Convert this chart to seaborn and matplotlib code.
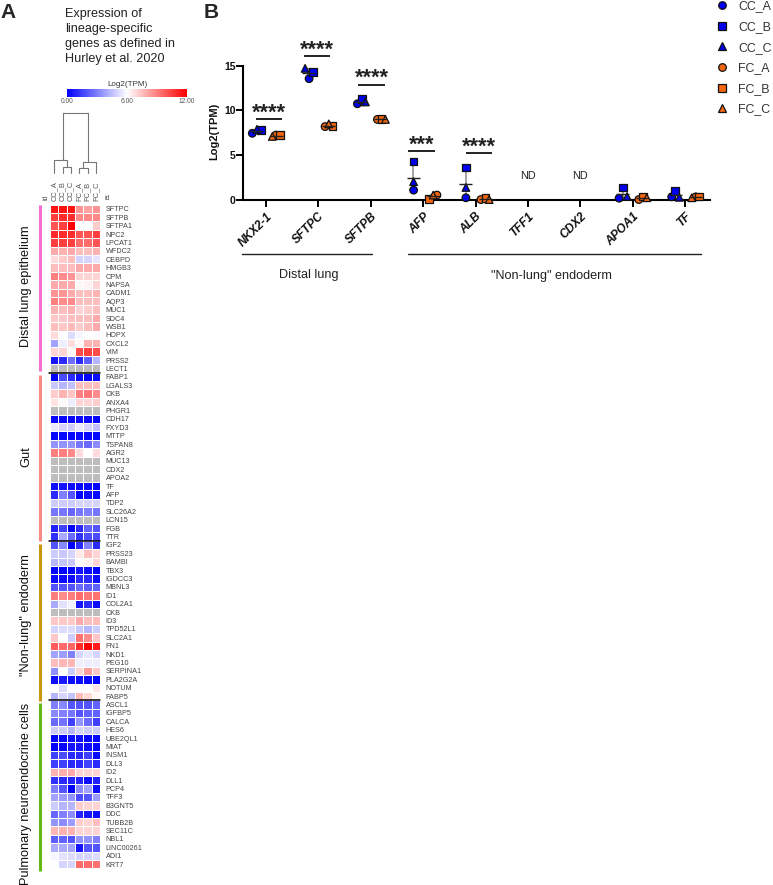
#!/usr/bin/env python
# coding: utf-8

import numpy as np
import pandas as pd
import matplotlib

matplotlib.use("Agg")
import matplotlib.pyplot as plt
import matplotlib.colors as mcolors
import seaborn as sns

nan = np.nan

## heatmap data (panel A), Log2(TPM)

samples = ["CC_A", "CC_B", "CC_C", "FC_A", "FC_B", "FC_C"]

distal_genes = ["SFTPC", "SFTPB", "SFTPA1", "NPC2", "LPCAT1", "WFDC2", "CEBPD", "HMGB3", "CPM", "NAPSA",
                "CADM1", "AQP3", "MUC1", "SDC4", "WSB1", "HOPX", "CXCL2", "VIM", "PRSS2", "LECT1"]
distal_values = [
    [11.5, 11.5, 11.5, 8.5, 8.2, 8.5],
    [10.5, 11.0, 11.0, 8.8, 8.8, 8.8],
    [10.0, 10.5, 12.0, 6.0, 6.0, 7.2],
    [11.0, 11.0, 11.0, 10.0, 10.0, 10.5],
    [10.5, 10.5, 10.5, 9.5, 9.5, 10.0],
    [8.0, 7.8, 8.0, 7.5, 7.5, 7.8],
    [6.8, 7.2, 7.5, 5.0, 5.0, 5.4],
    [7.5, 7.5, 7.5, 8.0, 8.0, 8.0],
    [9.0, 8.7, 8.5, 7.0, 7.0, 7.0],
    [8.0, 8.0, 8.0, 6.2, 6.3, 7.0],
    [8.5, 8.5, 8.0, 7.5, 7.5, 7.8],
    [9.0, 8.7, 8.8, 7.5, 7.5, 7.5],
    [7.8, 7.5, 7.8, 7.0, 7.2, 7.5],
    [7.3, 7.3, 7.5, 7.5, 7.5, 8.0],
    [7.5, 7.3, 7.6, 7.2, 7.5, 8.0],
    [6.8, 6.0, 5.2, 5.8, 6.0, 5.9],
    [3.8, 5.6, 6.8, 6.2, 7.8, 7.8],
    [7.0, 7.0, 6.2, 10.2, 10.5, 10.2],
    [0.5, 1.0, 2.6, 1.0, 2.2, 4.3],
    [nan, nan, nan, nan, nan, nan],
]

gut_genes = ["FABP1", "LGALS3", "CKB", "ANXA4", "PHGR1", "CDH17", "FXYD3", "MTTP", "TSPAN8", "AGR2",
             "MUC13", "CDX2", "APOA2", "TF", "AFP", "TDP2", "SLC26A2", "LCN15", "FGB", "TTR"]
gut_values = [
    [0.0, 1.8, 1.0, 0.3, 0.0, 0.3],
    [4.7, 4.3, 4.5, 7.5, 7.5, 7.5],
    [7.2, 7.8, 7.4, 9.0, 9.2, 8.7],
    [6.7, 6.1, 5.6, 7.0, 7.0, 7.2],
    [nan, nan, nan, nan, nan, nan],
    [0.1, 0.1, 0.1, 0.2, 0.1, 0.1],
    [5.5, 5.0, 4.8, 5.5, 5.0, 4.5],
    [0.2, 0.2, 0.2, 0.3, 0.2, 0.2],
    [3.5, 3.5, 3.5, 2.8, 2.5, 3.3],
    [9.0, 9.0, 8.8, 6.8, 6.0, 6.8],
    [nan, nan, nan, nan, nan, nan],
    [nan, nan, nan, nan, nan, nan],
    [nan, nan, nan, nan, nan, nan],
    [0.3, 0.5, 0.3, 0.2, 0.2, 0.1],
    [1.0, 3.0, 2.0, 0.0, 0.3, 0.2],
    [4.8, 4.8, 4.8, 5.0, 5.0, 5.0],
    [2.8, 2.8, 2.4, 2.8, 3.0, 2.8],
    [nan, nan, nan, nan, nan, nan],
    [0.8, 1.5, 0.0, 1.0, 2.3, 2.0],
    [1.2, 4.0, 2.5, 1.2, 1.8, 1.8],
]

endoderm_genes = ["IGF2", "PRSS23", "BAMBI", "TBX3", "IGDCC3", "MBNL3", "ID1", "COL2A1", "CKB", "ID3",
                  "TPD52L1", "SLC2A1", "FN1", "NKD1", "PEG10", "SERPINA1", "PLA2G2A", "NOTUM", "FABP5"]
endoderm_values = [
    [2.0, 3.2, 0.0, 1.0, 3.0, 1.0],
    [4.8, 4.7, 5.0, 6.5, 7.5, 7.0],
    [4.3, 4.6, 4.7, 6.0, 6.3, 7.0],
    [0.0, 0.0, 0.0, 0.5, 0.3, 0.0],
    [0.3, 0.3, 0.3, 1.0, 1.0, 0.3],
    [2.0, 2.0, 2.0, 2.5, 2.2, 2.3],
    [9.0, 8.7, 9.0, 9.5, 9.2, 9.3],
    [4.0, 5.3, 5.7, 0.5, 1.0, 0.3],
    [nan, nan, nan, nan, nan, nan],
    [7.3, 7.3, 7.3, 8.0, 7.5, 7.6],
    [5.0, 5.2, 5.2, 4.7, 4.3, 4.8],
    [7.3, 6.0, 4.8, 9.3, 8.7, 7.3],
    [9.8, 9.5, 9.6, 11.0, 12.0, 11.3],
    [3.8, 3.7, 3.0, 5.0, 5.4, 5.0],
    [7.5, 7.7, 7.7, 5.6, 5.6, 5.6],
    [3.4, 6.0, 4.8, 7.0, 8.3, 7.3],
    [0.3, 0.6, 0.3, 0.3, 0.2, 0.0],
    [6.0, 5.2, 6.0, 6.0, 6.0, 6.6],
    [4.3, 5.0, 4.6, 7.6, 6.9, 6.2],
]

pnec_genes = ["ASCL1", "IGFBP5", "CALCA", "HES6", "UBE2QL1", "MIAT", "INSM1", "DLL3", "ID2", "DLL1",
              "PCP4", "TFF3", "B3GNT5", "DDC", "TUBB2B", "SEC11C", "NBL1", "LINC00261", "ADI1", "KRT7"]
pnec_values = [
    [3.0, 3.2, 2.0, 2.0, 2.0, 2.3],
    [3.2, 3.0, 2.8, 2.0, 2.3, 2.3],
    [2.5, 2.7, 1.5, 3.5, 2.5, 1.5],
    [4.8, 4.8, 4.3, 5.0, 4.8, 4.8],
    [0.0, 0.0, 0.3, 0.3, 0.0, 0.1],
    [0.0, 0.1, 0.5, 0.5, 0.3, 0.1],
    [1.5, 1.8, 1.0, 1.0, 1.5, 0.3],
    [1.5, 1.5, 1.0, 1.0, 1.5, 1.0],
    [7.8, 7.9, 8.0, 7.0, 7.0, 7.0],
    [1.2, 1.0, 0.8, 0.8, 0.3, 0.8],
    [3.0, 2.0, 0.0, 3.3, 3.8, 0.3],
    [3.8, 3.7, 3.5, 1.8, 2.0, 3.7],
    [4.8, 4.3, 4.3, 7.2, 7.0, 7.0],
    [2.4, 3.0, 3.3, 0.8, 0.5, 0.3],
    [3.5, 3.3, 3.7, 7.2, 7.0, 7.5],
    [7.7, 7.8, 7.8, 7.0, 7.0, 7.0],
    [2.2, 2.3, 2.0, 3.5, 3.5, 3.0],
    [4.0, 4.0, 3.8, 0.5, 2.0, 2.0],
    [5.8, 5.3, 5.2, 5.0, 5.0, 5.2],
    [6.0, 5.0, 5.0, 9.5, 9.5, 9.3],
]

# (left child, right child, height); children >= 6 are earlier merges
merges = [(1, 2, 6.5), (0, 6, 13), (3, 4, 5), (8, 5, 11), (7, 9, 59.7)]

## scatter data (panel B), Log2(TPM)

markers_genes = ["NKX2-1", "SFTPC", "SFTPB", "AFP", "ALB", "TFF1", "CDX2", "APOA1", "TF"]
cc_a = [7.45, 13.55, 10.75, 1.1, 0.25, nan, nan, 0.2, 0.35]
cc_b = [7.8, 14.3, 11.3, 4.3, 3.65, nan, nan, 1.4, 1.0]
cc_c = [7.9, 14.7, 10.95, 2.05, 1.4, nan, nan, 0.4, 0.3]
fc_a = [7.25, 8.2, 9.0, 0.55, 0.05, nan, nan, 0.05, 0.35]
fc_b = [7.25, 8.25, 9.05, 0.1, 0.2, nan, nan, 0.4, 0.4]
fc_c = [7.1, 8.5, 9.0, 0.55, 0.05, nan, nan, 0.25, 0.25]

sig_genes = ["NKX2-1", "SFTPC", "SFTPB", "AFP", "ALB"]
sig_labels = ["****", "****", "****", "***", "****"]
sig_heights = [9.05, 16.1, 12.9, 5.5, 5.2]
nd_genes = ["TFF1", "CDX2"]

## layout: horizontal place of every replicate around its gene tick (pixels)

nudge_px = {
    "CC_A": [-13.7, -9.3, -13.4, -9.6, -9.7, 0, 0, -13.7, -13.5],
    "CC_B": [-5.3, -5.6, -9.0, -9.6, -9.7, 0, 0, -9.7, -9.9],
    "CC_C": [-9.0, -13.3, -5.4, -9.6, -9.7, 0, 0, -5.7, -5.9],
    "FC_A": [10.0, 6.7, 6.6, 13.7, 5.3, 0, 0, 6.0, 10.5],
    "FC_B": [14.0, 14.0, 10.6, 5.7, 10.0, 0, 0, 10.3, 13.8],
    "FC_C": [6.3, 10.4, 14.6, 10.0, 13.6, 0, 0, 14.0, 6.5],
}
sig_x_px = [(256, 282.3), (304, 330), (358.3, 384.7), (408, 434.7), (466, 492)]

W, H = 773, 885
TICK_PX = 52.4
BLUE, ORANGE = "#0000EE", "#F2670F"

sns.set_style("white")
plt.rcParams["font.family"] = ["Liberation Sans", "DejaVu Sans"]

fig = plt.figure(figsize=(W / 100, H / 100), dpi=100)


def px_axes(left, top, right, bottom):
    return fig.add_axes([left / W, 1 - bottom / H, (right - left) / W, (bottom - top) / H])


# everything that is not tied to a data scale goes here, in pixel coordinates
overlay = px_axes(0, 0, W, H)
overlay.set_xlim(0, W)
overlay.set_ylim(H, 0)
overlay.axis("off")

overlay.text(0, 13, "A", fontsize=15, fontweight="bold", va="center")
overlay.text(204, 13, "B", fontsize=15, fontweight="bold", va="center")
for i, line in enumerate(["Expression of", "lineage-specific", "genes as defined in", "Hurley et al. 2020"]):
    overlay.text(65, 13.5 + i * 15.2, line, fontsize=9.1, color="#222222", va="center")


## panel A: heatmap

all_genes = distal_genes + gut_genes + endoderm_genes + pnec_genes
all_values = distal_values + gut_values + endoderm_values + pnec_values
hm = pd.DataFrame(all_values, index=range(len(all_genes)), columns=samples)

cmap = mcolors.LinearSegmentedColormap.from_list("bwr_tpm", ["#0000FF", "#FFFFFF", "#FF0000"])
ax_hm = px_axes(50, 204.7, 100, 868.3)
ax_hm.set_facecolor("#BDBDBD")
sns.heatmap(
    hm,
    ax=ax_hm,
    cmap=cmap,
    vmin=0,
    vmax=12,
    cbar=False,
    linewidths=0.5,
    linecolor="white",
    xticklabels=samples,
    yticklabels=all_genes,
)
ax_hm.xaxis.tick_top()
ax_hm.yaxis.tick_right()
ax_hm.tick_params(axis="x", length=0, pad=3, labelsize=5.4, labelcolor="#555555", rotation=90)
ax_hm.tick_params(axis="y", length=0, pad=4, labelsize=5.2, labelcolor="#444444", rotation=0)
overlay.text(46, 200, "id", fontsize=5, color="#555555", rotation=90, ha="center", va="bottom")
overlay.text(104.5, 199, "id", fontsize=5, color="#555555", va="center")

# colour bar
ax_cb = px_axes(66.7, 89.3, 186.7, 96.7)
ax_cb.imshow(np.linspace(0, 12, 256)[None, :], aspect="auto", cmap=cmap, vmin=0, vmax=12, extent=[0, 12, 0, 1])
ax_cb.axis("off")
overlay.text(127, 84, "Log2(TPM)", fontsize=5.8, color="#333333", ha="center", va="center")
for v, lab in zip([0, 6, 12], ["0.00", "6.00", "12.00"]):
    overlay.text(66.7 + v * 10, 101.3, lab, fontsize=4.8, color="#555555", ha="center", va="center")

# dendrogram
ax_den = px_axes(50, 113.3, 100, 173)
ax_den.set_xlim(0, 6)
ax_den.set_ylim(0, 59.7)
ax_den.axis("off")
nodes = {i: (i + 0.5, 0, i + 0.5, i + 0.5) for i in range(6)}  # x, height, leaf min, leaf max
for n, (a, b, h) in enumerate(merges):
    xa, ha, mina, maxa = nodes[a]
    xb, hb, minb, maxb = nodes[b]
    ax_den.plot([xa, xa, xb, xb], [ha, h, h, hb], color="#777777", lw=0.8, clip_on=False)
    lo, hi = min(mina, minb), max(maxa, maxb)
    nodes[6 + n] = ((lo + hi) / 2, h, lo, hi)

# group strips and labels
strips = [
    ("Distal lung epithelium", 205, 370.7, "#F56FD2", 286),
    ("Gut", 375, 540.7, "#F98A85", 457),
    ('"Non-lung" endoderm', 544, 701, "#C9980E", 615),
    ("Pulmonary neuroendocrine cells", 703, 870.7, "#63B915", 794),
]
for label, top, bottom, colour, mid in strips:
    overlay.plot([39.8, 39.8], [top, bottom], color=colour, lw=2.2, solid_capstyle="butt")
    overlay.text(26, mid, label, fontsize=9.2, rotation=90, ha="center", va="center", color="#111111")
for y in [372.7, 540.7, 700.3]:
    overlay.plot([49, 100], [y, y], color="black", lw=1.1, zorder=5)
overlay.set_zorder(3)


## panel B: replicates per gene

ax = px_axes(243.5, 65.7, 710, 200)
replicates = dict(zip(samples, [cc_a, cc_b, cc_c, fc_a, fc_b, fc_c]))
rows = []
for s, vals in replicates.items():
    for i, v in enumerate(vals):
        rows.append({"sample": s, "pos": i + nudge_px[s][i] / TICK_PX, "value": v, "gene": i})
df = pd.DataFrame(rows).dropna(subset=["value"])

palette = {s: (BLUE if s.startswith("CC") else ORANGE) for s in samples}
marker_map = {s: m for s, m in zip(samples, ["o", "s", "^", "o", "s", "^"])}

# mean and SD bars, under the points
for group, centre in (("CC", -10.0), ("FC", 10.0)):
    sub = df[df["sample"].str.startswith(group)]
    stats = sub.groupby("gene")["value"].agg(["mean", "std"])
    xc = stats.index + centre / TICK_PX
    ax.errorbar(xc, stats["mean"], yerr=stats["std"], fmt="none", ecolor="#8A8A8A", elinewidth=1.1,
                capsize=2.5, capthick=0.8, zorder=1, clip_on=False)
    ax.hlines(stats["mean"], xc - 6.5 / TICK_PX, xc + 6.5 / TICK_PX, color="#222222", lw=1.0, zorder=4,
              clip_on=False)

sns.scatterplot(
    data=df,
    x="pos",
    y="value",
    hue="sample",
    style="sample",
    hue_order=samples,
    style_order=samples,
    palette=palette,
    markers=marker_map,
    s=30,
    edgecolor="#111111",
    linewidth=0.9,
    clip_on=False,
    zorder=3,
    ax=ax,
)

ax.set_xlim(-22.5 / TICK_PX, 444 / TICK_PX)
ax.set_ylim(0, 15)
ax.set_xticks(range(len(markers_genes)))
ax.set_xticklabels(markers_genes, rotation=45, ha="right", rotation_mode="anchor", fontsize=8.6,
                   fontweight="bold", fontstyle="italic", color="#111111")
ax.set_yticks([0, 5, 10, 15])
ax.set_yticklabels(["0", "5", "10", "15"], fontsize=7.5, fontweight="bold", color="#111111")
ax.set_xlabel("")
ax.set_ylabel("Log2(TPM)", fontsize=8, fontweight="bold", color="#111111")
ax.yaxis.set_label_coords((219 - 243.5) / (710 - 243.5), 0.51)
ax.tick_params(axis="both", which="major", bottom=True, left=True, width=1.4, length=5, color="black")
ax.tick_params(axis="x", pad=2.5)
ax.tick_params(axis="y", pad=0.5)
ax.set_facecolor("none")
sns.despine(ax=ax)
ax.spines["left"].set_linewidth(1.5)
ax.spines["bottom"].set_linewidth(1.5)
ax.spines["left"].set_color("black")
ax.spines["bottom"].set_color("black")

# significance bars and ND marks
for g, lab, h, (x0, x1) in zip(sig_genes, sig_labels, sig_heights, sig_x_px):
    yp = 200 - h * 8.953
    overlay.plot([x0, x1], [yp, yp], color="#111111", lw=1.3, solid_capstyle="butt")
    overlay.text((x0 + x1) / 2, yp - 6, lab, fontsize=15.5, fontweight="bold", color="#222222",
                 ha="center", va="center")
for g in nd_genes:
    ax.text(markers_genes.index(g), 2.7, "ND", fontsize=7.8, color="#222222", ha="center", va="center")

# gene group brackets
overlay.plot([242.3, 372], [254, 254], color="#222222", lw=1.0)
overlay.plot([408, 700.7], [254, 254], color="#222222", lw=1.0)
overlay.text(308.7, 275.3, "Distal lung", fontsize=9.1, color="#222222", ha="center", va="center")
overlay.text(551, 275.7, '"Non-lung" endoderm', fontsize=9.1, color="#222222", ha="center", va="center")

# legend, top right corner
handles, labels = ax.get_legend_handles_labels()
ax.legend(
    handles,
    labels,
    loc="upper left",
    bbox_to_anchor=(710.7 / W, 1 - 0.3 / H),
    bbox_transform=fig.transFigure,
    frameon=False,
    fontsize=8.9,
    labelcolor="#333333",
    labelspacing=0.7,
    handlelength=1.8,
    handletextpad=0.4,
    borderpad=0,
    borderaxespad=0,
    markerscale=1.0,
)

fig.savefig("out.png", dpi=100)
